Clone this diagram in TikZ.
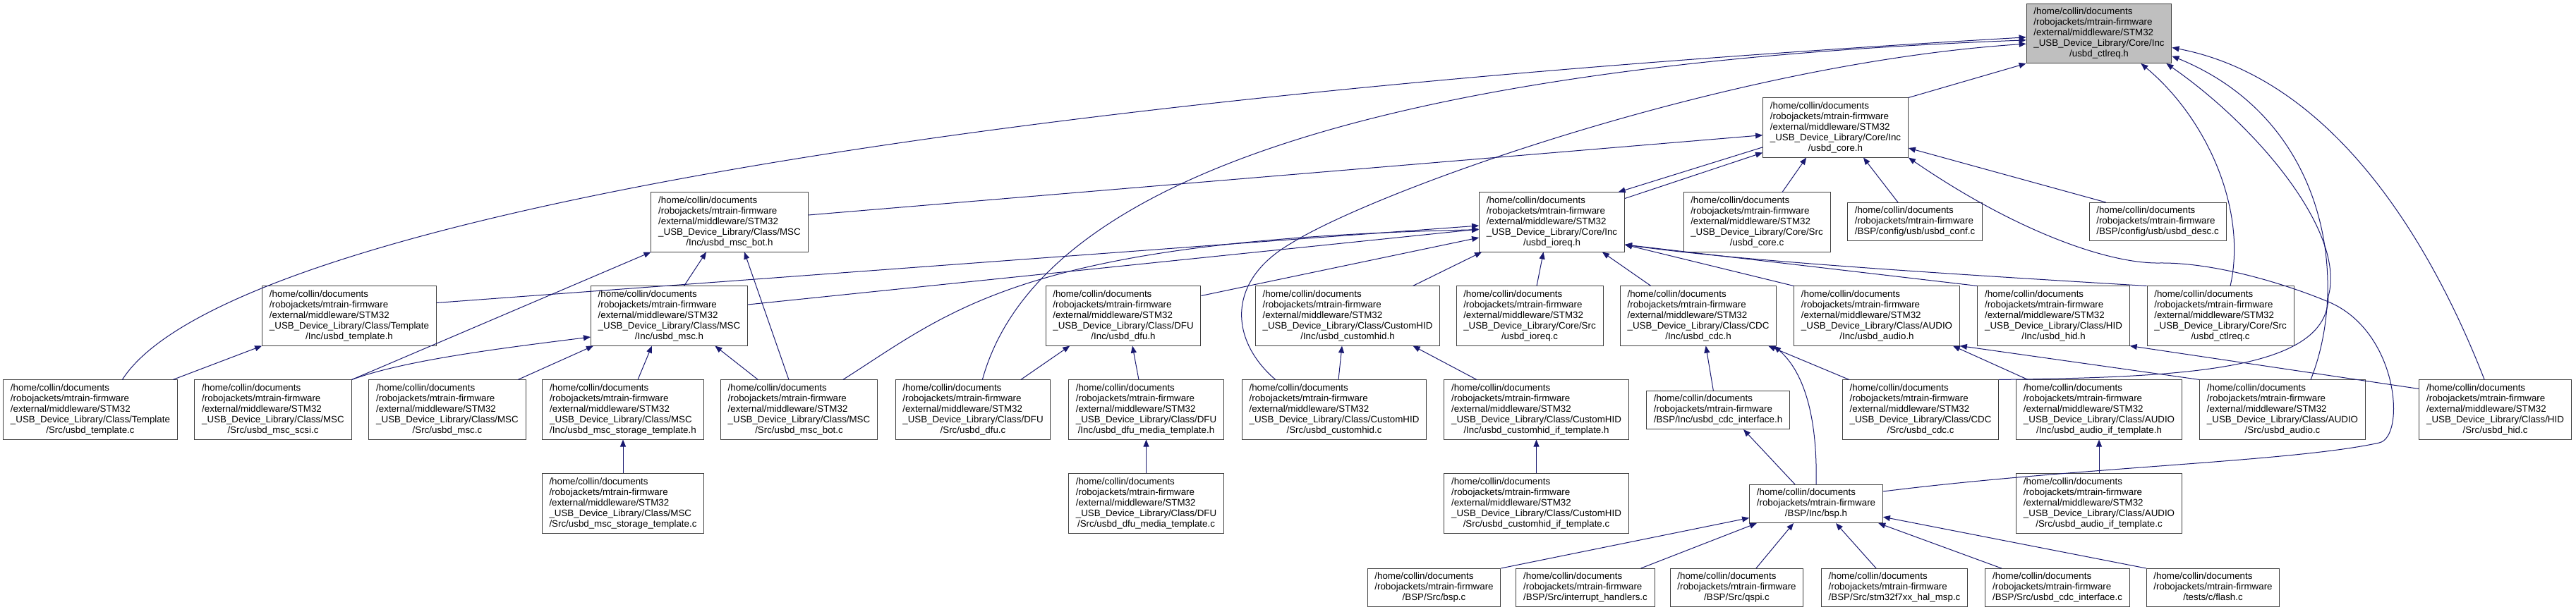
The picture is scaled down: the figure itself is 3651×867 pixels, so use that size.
\documentclass[tikz,border=0pt]{standalone}
\usepackage{fontspec}
\setmainfont{Liberation Sans}
\usetikzlibrary{arrows.meta}
\definecolor{inclblue}{HTML}{191970}
\definecolor{boxgray}{HTML}{404040}
\definecolor{rootgray}{HTML}{BFBFBF}
\newcommand{\stmpath}[2]{\begin{tabular}{@{}l@{}}/home/collin/documents\\/robojackets/mtrain-firmware\\/external/middleware/STM32\\\_USB\_Device\_Library/#1\\\multicolumn{1}{@{}c@{}}{#2}\end{tabular}}
\newcommand{\fwpath}[1]{\begin{tabular}{@{}l@{}}/home/collin/documents\\/robojackets/mtrain-firmware\\\multicolumn{1}{@{}c@{}}{#1}\end{tabular}}

\begin{document}
\begin{tikzpicture}[x=0.75bp,y=-0.75bp,
    srcfile/.style={draw=boxgray,line width=0.75bp,fill=white,inner xsep=7.7bp,inner ysep=3.4bp,font=\fontsize{10bp}{11.25bp}\selectfont},
    incl/.style={draw=inclblue,line width=0.75bp,-{Triangle[length=7.5bp,width=6bp]}}]
    \useasboundingbox (0,0) rectangle (3651,867);

    \node[srcfile,fill=rootgray] (ctlreq_h) at (2975,47.5) {\stmpath{Core/Inc}{/usbd\_ctlreq.h}};
    \node[srcfile] (core_h) at (2601.5,181) {\stmpath{Core/Inc}{/usbd\_core.h}};

    \node[srcfile] (msc_bot_h) at (1034,315) {\stmpath{Class/MSC}{/Inc/usbd\_msc\_bot.h}};
    \node[srcfile] (ioreq_h) at (2199.5,315) {\stmpath{Core/Inc}{/usbd\_ioreq.h}};
    \node[srcfile] (core_c) at (2490,315) {\stmpath{Core/Src}{/usbd\_core.c}};
    \node[srcfile] (conf_c) at (2714,314.5) {\fwpath{/BSP/config/usb/usbd\_conf.c}};
    \node[srcfile] (desc_c) at (3058,314.5) {\fwpath{/BSP/config/usb/usbd\_desc.c}};

    \node[srcfile] (tmpl_h) at (495,448) {\stmpath{Class/Template}{/Inc/usbd\_template.h}};
    \node[srcfile] (msc_h) at (948.5,448) {\stmpath{Class/MSC}{/Inc/usbd\_msc.h}};
    \node[srcfile] (dfu_h) at (1592,448) {\stmpath{Class/DFU}{/Inc/usbd\_dfu.h}};
    \node[srcfile] (chid_h) at (1910,448) {\stmpath{Class/CustomHID}{/Inc/usbd\_customhid.h}};
    \node[srcfile] (ioreq_c) at (2168,448) {\stmpath{Core/Src}{/usbd\_ioreq.c}};
    \node[srcfile] (cdc_h) at (2407,448) {\stmpath{Class/CDC}{/Inc/usbd\_cdc.h}};
    \node[srcfile] (audio_h) at (2660,448) {\stmpath{Class/AUDIO}{/Inc/usbd\_audio.h}};
    \node[srcfile] (hid_h) at (2910.5,448) {\stmpath{Class/HID}{/Inc/usbd\_hid.h}};
    \node[srcfile] (ctlreq_c) at (3147,448) {\stmpath{Core/Src}{/usbd\_ctlreq.c}};

    \node[srcfile] (tmpl_c) at (128,581) {\stmpath{Class/Template}{/Src/usbd\_template.c}};
    \node[srcfile] (scsi_c) at (387,581) {\stmpath{Class/MSC}{/Src/usbd\_msc\_scsi.c}};
    \node[srcfile] (msc_c) at (634,581) {\stmpath{Class/MSC}{/Src/usbd\_msc.c}};
    \node[srcfile] (stor_h) at (883,581) {\stmpath{Class/MSC}{/Inc/usbd\_msc\_storage\_template.h}};
    \node[srcfile] (msc_bot_c) at (1132.5,581) {\stmpath{Class/MSC}{/Src/usbd\_msc\_bot.c}};
    \node[srcfile] (dfu_c) at (1379,581) {\stmpath{Class/DFU}{/Src/usbd\_dfu.c}};
    \node[srcfile] (dfum_h) at (1624.5,581) {\stmpath{Class/DFU}{/Inc/usbd\_dfu\_media\_template.h}};
    \node[srcfile] (chid_c) at (1891,581) {\stmpath{Class/CustomHID}{/Src/usbd\_customhid.c}};
    \node[srcfile] (chidif_h) at (2177.5,581) {\stmpath{Class/CustomHID}{/Inc/usbd\_customhid\_if\_template.h}};
    \node[srcfile] (cdcif_h) at (2435,581.5) {\fwpath{/BSP/Inc/usbd\_cdc\_interface.h}};
    \node[srcfile] (cdc_c) at (2722,581) {\stmpath{Class/CDC}{/Src/usbd\_cdc.c}};
    \node[srcfile] (audioif_h) at (2975,581) {\stmpath{Class/AUDIO}{/Inc/usbd\_audio\_if\_template.h}};
    \node[srcfile] (audio_c) at (3235,581) {\stmpath{Class/AUDIO}{/Src/usbd\_audio.c}};
    \node[srcfile] (hid_c) at (3536.5,581) {\stmpath{Class/HID}{/Src/usbd\_hid.c}};

    \node[srcfile] (stor_c) at (883,714) {\stmpath{Class/MSC}{/Src/usbd\_msc\_storage\_template.c}};
    \node[srcfile] (dfum_c) at (1624.5,714) {\stmpath{Class/DFU}{/Src/usbd\_dfu\_media\_template.c}};
    \node[srcfile] (chidif_c) at (2177.5,714) {\stmpath{Class/CustomHID}{/Src/usbd\_customhid\_if\_template.c}};
    \node[srcfile] (bsp_h) at (2574,714.5) {\fwpath{/BSP/Inc/bsp.h}};
    \node[srcfile] (audioif_c) at (2975,714) {\stmpath{Class/AUDIO}{/Src/usbd\_audio\_if\_template.c}};

    \node[srcfile] (bsp_c) at (2032.5,833.5) {\fwpath{/BSP/Src/bsp.c}};
    \node[srcfile] (irq_c) at (2247,833.5) {\fwpath{/BSP/Src/interrupt\_handlers.c}};
    \node[srcfile] (qspi_c) at (2461.5,833.5) {\fwpath{/BSP/Src/qspi.c}};
    \node[srcfile] (msp_c) at (2685,833.5) {\fwpath{/BSP/Src/stm32f7xx\_hal\_msp.c}};
    \node[srcfile] (cdcif_c) at (2916,833.5) {\fwpath{/BSP/Src/usbd\_cdc\_interface.c}};
    \node[srcfile] (flash_c) at (3136.5,833.5) {\fwpath{/tests/c/flash.c}};

    \draw[incl] (core_h.north east) -- (ctlreq_h.south west);
    \draw[incl] ([xshift=34bp]tmpl_c.north) .. controls (300,340) and (1200,150) .. ([yshift=-4bp]ctlreq_h.west);
    \draw[incl] ([xshift=10bp]dfu_c.north) .. controls (1450,330) and (1750,100) .. ([yshift=-7bp]ctlreq_h.west);
    \draw[incl] ([xshift=36bp]chid_c.north west) .. controls (1745,485) and (1735,400) .. (1830,345) .. controls (1950,270) and (2450,90) .. ([yshift=-11bp]ctlreq_h.west);
    \draw[incl] ([xshift=-11.5bp]hid_c.north) .. controls (3440,330) and (3300,110) .. ([yshift=-15bp]ctlreq_h.east);
    \draw[incl] ([xshift=30bp]audio_c.north) .. controls (3330,400) and (3300,170) .. ([yshift=-24bp]ctlreq_h.east);
    \draw[incl] (cdc_c.north east) .. controls (3100,535) and (3300,525) .. (3300,420) .. controls (3325,330) and (3200,180) .. ([xshift=-6bp]ctlreq_h.south east);
    \draw[incl] ([xshift=10.5bp]ctlreq_c.north) .. controls (3185,300) and (3130,170) .. ([xshift=-33bp]ctlreq_h.south east);

    \draw[incl] ([yshift=-6.75bp]ioreq_h.north east) -- ([yshift=5.25bp]core_h.south west);
    \draw[incl] ([yshift=11bp]core_h.south west) -- ([xshift=-7bp]ioreq_h.north east);
    \draw[incl] ([yshift=7.5bp]msc_bot_h.east) -- ([yshift=-8bp]core_h.west);
    \draw[incl] ([xshift=27bp]core_c.north) -- ([xshift=-31bp]core_h.south);
    \draw[incl] ([xshift=-18bp]conf_c.north) -- ([xshift=29.6bp]core_h.south);
    \draw[incl] ([xshift=-55bp]desc_c.north) -- ([yshift=-21.75bp]core_h.east);
    \draw[incl] ([yshift=-7.5bp]bsp_h.north east) .. controls (2950,662) and (3250,655) .. (3372,628) .. controls (3410,620) and (3400,470) .. (3300,428) .. controls (3240,403) and (3140,372) .. (3060,373) .. controls (2990,374) and (2860,330) .. (core_h.south east);

    \draw[incl] ([yshift=-18bp]tmpl_h.north east) -- ([yshift=-3.75bp]ioreq_h.west);
    \draw[incl] ([yshift=12bp]msc_h.east) -- ([yshift=-7.5bp]ioreq_h.west);
    \draw[incl] ([xshift=-37bp]msc_bot_c.north east) .. controls (1350,440) and (1450,340) .. ([yshift=-8bp]ioreq_h.west);
    \draw[incl] ([yshift=-10.5bp]dfu_h.north east) -- ([yshift=-16.5bp]ioreq_h.west);
    \draw[incl] ([xshift=-29bp]chid_h.north east) -- ([xshift=3bp]ioreq_h.south west);
    \draw[incl] ([xshift=7.5bp]ioreq_c.north) -- ([xshift=-9bp]ioreq_h.south);
    \draw[incl] ([xshift=33bp]cdc_h.north west) -- ([xshift=-24bp]ioreq_h.south east);
    \draw[incl] (audio_h.north west) -- ([yshift=-24bp]ioreq_h.east);
    \draw[incl] (hid_h.north west) -- ([yshift=-24bp]ioreq_h.east);
    \draw[incl] (ctlreq_c.north west) .. controls (2700,385) and (2450,368) .. ([yshift=-24bp]ioreq_h.east);

    \draw[incl] ([xshift=15.75bp]msc_h.north) -- ([xshift=-24.75bp]msc_bot_h.south);
    \draw[incl] ([xshift=-10.9bp]msc_bot_c.north) -- ([xshift=15.75bp]msc_bot_h.south);
    \draw[incl] (scsi_c.north east) -- (msc_bot_h.south west);
    \draw[incl] (scsi_c.north east) .. controls (570,512) and (700,495) .. ([yshift=-22.5bp]msc_h.west);
    \draw[incl] ([xshift=-8.6bp]msc_c.north east) -- ([xshift=3bp]msc_h.south west);
    \draw[incl] ([xshift=15.75bp]stor_h.north) -- ([xshift=-18.4bp]msc_h.south);
    \draw[incl] ([xshift=40bp]msc_bot_c.north west) -- ([xshift=-35bp]msc_h.south east);
    \draw[incl] (stor_c) -- (stor_h);
    \draw[incl] ([xshift=-5bp]tmpl_c.north east) -- (tmpl_h.south west);

    \draw[incl] ([xshift=-32bp]dfu_c.north east) -- ([xshift=26bp]dfu_h.south west);
    \draw[incl] ([xshift=-7.9bp]dfum_h.north) -- ([xshift=9.75bp]dfu_h.south);
    \draw[incl] (dfum_c) -- (dfum_h);
    \draw[incl] ([xshift=4.5bp]chid_c.north) -- ([xshift=-6bp]chid_h.south);
    \draw[incl] ([xshift=35bp]chidif_h.north west) -- ([xshift=-29bp]chid_h.south east);
    \draw[incl] (chidif_c) -- (chidif_h);

    \draw[incl] ([xshift=-5bp]cdcif_h.north) -- ([xshift=8bp]cdc_h.south);
    \draw[incl] ([xshift=7.5bp]cdc_c.north west) -- ([xshift=-9bp]cdc_h.south east);
    \draw[incl] (bsp_h.north) .. controls (2576,600) and (2560,530) .. ([xshift=-3bp]cdc_h.south east);
    \draw[incl] ([xshift=-22.5bp]bsp_h.north) -- ([xshift=27bp]cdcif_h.south);
    \draw[incl] (audio_c.north west) -- (audio_h.south east);
    \draw[incl] ([xshift=12.75bp]audioif_h.north west) -- ([xshift=-7.5bp]audio_h.south east);
    \draw[incl] (audioif_c) -- (audioif_h);
    \draw[incl] ([yshift=-9.75bp]hid_c.north west) -- (hid_h.south east);

    \draw[incl] (bsp_c.north east) -- ([yshift=-15bp]bsp_h.west);
    \draw[incl] ([xshift=-15bp]irq_c.north east) -- ([xshift=8bp]bsp_h.south west);
    \draw[incl] ([xshift=20.6bp]qspi_c.north) -- ([xshift=-24bp]bsp_h.south);
    \draw[incl] ([xshift=-19.5bp]msp_c.north) -- ([xshift=21bp]bsp_h.south);
    \draw[incl] ([xshift=17.5bp]cdcif_c.north west) -- ([xshift=-5bp]bsp_h.south east);
    \draw[incl] (flash_c.north west) -- ([yshift=-14bp]bsp_h.east);
\end{tikzpicture}
\end{document}
